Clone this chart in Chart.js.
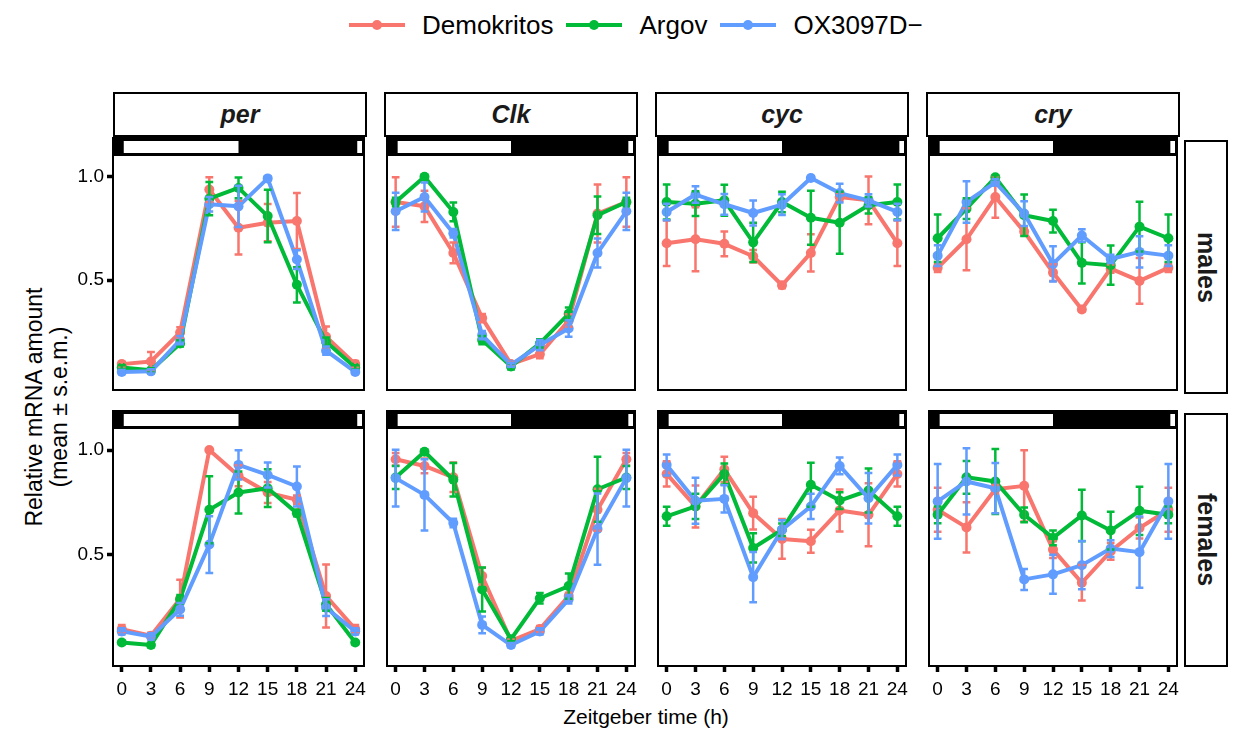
<!DOCTYPE html>
<html lang="en">
<head>
    <meta charset="UTF-8">
    <title>Relative mRNA amount over the day</title>
    <script src="https://cdn.jsdelivr.net/npm/chart.js"></script>
    <style>
        body {
            margin: 0;
            background-color: #fff;
            font-family: "Liberation Sans", Arial, sans-serif;
        }
        #page {
            position: relative;
            width: 1236px;
            height: 732px;
            overflow: hidden;
        }
        .strip-top {
            position: absolute;
            top: 92px;
            width: 254px;
            height: 45px;
            border: 2px solid #000;
            box-sizing: border-box;
            display: flex;
            align-items: center;
            justify-content: center;
            font-weight: bold;
            font-style: italic;
            font-size: 25px;
            color: #1a1a1a;
        }
        .strip-right {
            position: absolute;
            left: 1184px;
            width: 44px;
            border: 2px solid #000;
            box-sizing: border-box;
            display: flex;
            align-items: center;
            justify-content: center;
            font-weight: bold;
            font-size: 25px;
            color: #1a1a1a;
        }
        .strip-right span {
            writing-mode: vertical-rl;
        }
        #legend {
            position: absolute;
            top: 7px;
            left: 349px;
            height: 36px;
            display: flex;
            align-items: center;
            font-size: 26px;
            color: #000;
        }
        .key {
            position: relative;
            width: 56px;
            height: 4px;
            margin-right: 17px;
        }
        .key i {
            position: absolute;
            left: 23px;
            top: -3px;
            width: 10px;
            height: 10px;
            border-radius: 50%;
        }
        .item {
            display: flex;
            align-items: center;
            margin-right: 13px;
        }
        #ytitle {
            position: absolute;
            left: -153px;
            top: 382px;
            width: 400px;
            height: 50px;
            line-height: 25px;
            text-align: center;
            font-size: 23px;
            color: #000;
            transform: rotate(-90deg);
        }
        #xtitle {
            position: absolute;
            left: 446px;
            top: 705px;
            width: 400px;
            text-align: center;
            font-size: 21px;
            color: #000;
        }
    </style>
</head>
<body>
<div id="page">
    <div id="legend"></div>
    <div id="ytitle">Relative mRNA amount<br>(mean ± s.e.m.)</div>
    <div id="xtitle">Zeitgeber time (h)</div>
</div>

<script>
    // zeitgeber time points (h)
    const zt = [0, 3, 6, 9, 12, 15, 18, 21, 24];
    const xTicks = [0, 3, 6, 9, 12, 15, 18, 21, 24];
    const yTicks = [0.5, 1.0];
    const strains = ['Demokritos', 'Argov', 'OX3097D\u2212'];
    const genes = ['per', 'Clk', 'cyc', 'cry'];
    const sexes = ['males', 'females'];
    // light phases (ZT) for the light/dark bar
    const lightPhases = [[0, 12], [24, 36]];

    // rows: Demokritos, Argov, OX3097D-
    const perMalesMean = [
        [0.095, 0.108, 0.248, 0.938, 0.754, 0.778, 0.786, 0.227, 0.095],
        [0.079, 0.065, 0.195, 0.894, 0.946, 0.810, 0.478, 0.203, 0.079],
        [0.057, 0.060, 0.211, 0.867, 0.857, 0.992, 0.600, 0.160, 0.057]
    ];
    const perMalesSem = [
        [0.012, 0.045, 0.025, 0.060, 0.130, 0.090, 0.135, 0.050, 0.015],
        [0.010, 0.010, 0.015, 0.080, 0.050, 0.127, 0.085, 0.020, 0.010],
        [0.010, 0.010, 0.020, 0.035, 0.100, 0.010, 0.045, 0.020, 0.010]
    ];
    const clkMalesMean = [
        [0.878, 0.857, 0.632, 0.317, 0.095, 0.143, 0.306, 0.822, 0.878],
        [0.878, 1.000, 0.830, 0.211, 0.084, 0.195, 0.338, 0.814, 0.878],
        [0.833, 0.902, 0.727, 0.235, 0.092, 0.187, 0.267, 0.632, 0.833]
    ];
    const clkMalesSem = [
        [0.120, 0.075, 0.050, 0.020, 0.010, 0.020, 0.030, 0.140, 0.120],
        [0.020, 0.010, 0.045, 0.020, 0.015, 0.020, 0.030, 0.090, 0.020],
        [0.090, 0.070, 0.020, 0.020, 0.010, 0.025, 0.040, 0.070, 0.090]
    ];
    const cycMalesMean = [
        [0.679, 0.698, 0.676, 0.616, 0.476, 0.632, 0.902, 0.886, 0.679],
        [0.878, 0.870, 0.886, 0.683, 0.878, 0.802, 0.778, 0.862, 0.878],
        [0.830, 0.914, 0.867, 0.825, 0.865, 0.994, 0.921, 0.886, 0.830]
    ];
    const cycMalesSem = [
        [0.110, 0.155, 0.060, 0.030, 0.015, 0.090, 0.020, 0.115, 0.110],
        [0.085, 0.060, 0.075, 0.095, 0.050, 0.130, 0.150, 0.040, 0.085],
        [0.040, 0.040, 0.050, 0.060, 0.050, 0.010, 0.045, 0.030, 0.040]
    ];
    const cryMalesMean = [
        [0.560, 0.698, 0.902, 0.735, 0.537, 0.359, 0.556, 0.497, 0.560],
        [0.703, 0.846, 0.997, 0.814, 0.786, 0.584, 0.573, 0.759, 0.703],
        [0.619, 0.878, 0.973, 0.822, 0.579, 0.716, 0.603, 0.637, 0.619]
    ];
    const cryMalesSem = [
        [0.020, 0.150, 0.100, 0.020, 0.040, 0.010, 0.020, 0.110, 0.020],
        [0.115, 0.050, 0.010, 0.100, 0.055, 0.100, 0.095, 0.120, 0.115],
        [0.050, 0.100, 0.015, 0.060, 0.085, 0.030, 0.020, 0.075, 0.050]
    ];
    const perFemalesMean = [
        [0.146, 0.114, 0.291, 1.000, 0.877, 0.797, 0.763, 0.304, 0.146],
        [0.082, 0.070, 0.288, 0.715, 0.797, 0.818, 0.699, 0.264, 0.082],
        [0.135, 0.111, 0.240, 0.549, 0.929, 0.881, 0.826, 0.248, 0.135]
    ];
    const perFemalesSem = [
        [0.020, 0.015, 0.090, 0.005, 0.050, 0.050, 0.020, 0.150, 0.020],
        [0.010, 0.010, 0.020, 0.160, 0.100, 0.090, 0.015, 0.030, 0.010],
        [0.015, 0.015, 0.030, 0.135, 0.070, 0.060, 0.095, 0.040, 0.015]
    ];
    const clkFemalesMean = [
        [0.956, 0.924, 0.870, 0.399, 0.090, 0.146, 0.304, 0.715, 0.956],
        [0.869, 0.992, 0.858, 0.335, 0.098, 0.293, 0.351, 0.813, 0.869],
        [0.866, 0.786, 0.652, 0.166, 0.070, 0.135, 0.288, 0.623, 0.866]
    ];
    const clkFemalesSem = [
        [0.030, 0.035, 0.070, 0.040, 0.010, 0.015, 0.015, 0.100, 0.030],
        [0.055, 0.010, 0.080, 0.105, 0.010, 0.025, 0.060, 0.155, 0.055],
        [0.135, 0.170, 0.020, 0.040, 0.010, 0.015, 0.020, 0.170, 0.135]
    ];
    const cycFemalesMean = [
        [0.886, 0.731, 0.908, 0.699, 0.576, 0.565, 0.712, 0.691, 0.886],
        [0.684, 0.731, 0.886, 0.533, 0.620, 0.834, 0.759, 0.807, 0.684],
        [0.929, 0.758, 0.767, 0.394, 0.620, 0.731, 0.924, 0.770, 0.929]
    ];
    const cycFemalesSem = [
        [0.060, 0.100, 0.060, 0.078, 0.095, 0.055, 0.100, 0.150, 0.060],
        [0.045, 0.060, 0.050, 0.070, 0.030, 0.105, 0.040, 0.105, 0.045],
        [0.050, 0.110, 0.065, 0.120, 0.045, 0.060, 0.040, 0.120, 0.050]
    ];
    const cryFemalesMean = [
        [0.715, 0.631, 0.813, 0.829, 0.525, 0.367, 0.517, 0.628, 0.715],
        [0.691, 0.870, 0.850, 0.691, 0.581, 0.688, 0.616, 0.710, 0.691],
        [0.755, 0.850, 0.818, 0.383, 0.407, 0.451, 0.530, 0.513, 0.755]
    ];
    const cryFemalesSem = [
        [0.105, 0.120, 0.020, 0.170, 0.040, 0.085, 0.040, 0.050, 0.105],
        [0.040, 0.078, 0.155, 0.035, 0.035, 0.123, 0.090, 0.115, 0.040],
        [0.178, 0.158, 0.120, 0.050, 0.093, 0.115, 0.040, 0.170, 0.178]
    ];

    const panels = [
        [[perMalesMean, perMalesSem], [clkMalesMean, clkMalesSem], [cycMalesMean, cycMalesSem], [cryMalesMean, cryMalesSem]],
        [[perFemalesMean, perFemalesSem], [clkFemalesMean, clkFemalesSem], [cycFemalesMean, cycFemalesSem], [cryFemalesMean, cryFemalesSem]]
    ];

    const colors = ['#F8766D', '#00BA38', '#619CFF'];
    const font = '"Liberation Sans", Arial, sans-serif';

    // layout of the facet grid (px)
    const colLeft = [113, 384, 655, 926];
    const plotTop = [155, 428];
    const plotW = 254, plotH = 238, barH = 18;
    const yAxisW = 60, xAxisH = 44, pad = 2;
    const xMin = -0.9, xMax = 24.9, yMin = -0.03, yMax = 1.105;
    const capHalf = 0.4;

    const page = document.getElementById('page');

    // legend
    const legend = document.getElementById('legend');
    strains.forEach((name, i) => {
        const item = document.createElement('div');
        item.className = 'item';
        item.innerHTML = `<span class="key" style="background:${colors[i]}"><i style="background:${colors[i]}"></i></span><span>${name}</span>`;
        legend.appendChild(item);
    });

    // strips
    genes.forEach((g, c) => {
        const d = document.createElement('div');
        d.className = 'strip-top';
        d.style.left = colLeft[c] + 'px';
        d.textContent = g;
        page.appendChild(d);
    });
    sexes.forEach((s, r) => {
        const d = document.createElement('div');
        d.className = 'strip-right';
        d.style.top = (plotTop[r] - barH + 3) + 'px';
        d.style.height = (plotH + barH - 2) + 'px';
        d.innerHTML = `<span>${s}</span>`;
        page.appendChild(d);
    });

    // light/dark bar, error bars and panel border
    const panelDecor = {
        id: 'panelDecor',
        beforeDatasetsDraw(chart) {
            const { ctx, chartArea } = chart;
            const x = chart.scales.x;
            const top = chartArea.top - barH;
            ctx.save();
            ctx.fillStyle = '#000';
            ctx.fillRect(chartArea.left - 1, top, chartArea.right - chartArea.left + 2, barH);
            ctx.fillStyle = '#fff';
            lightPhases.forEach(([a, b]) => {
                const x0 = Math.max(x.getPixelForValue(a) + 2, chartArea.left + 2);
                const x1 = Math.min(x.getPixelForValue(b), chartArea.right - 2);
                if (x1 > x0) ctx.fillRect(x0, top + 4, x1 - x0, barH - 6);
            });
            ctx.restore();
        },
        afterDatasetsDraw(chart) {
            const { ctx } = chart;
            const xs = chart.scales.x, ys = chart.scales.y;
            ctx.save();
            ctx.lineWidth = 2.5;
            chart.data.datasets.forEach(ds => {
                ctx.strokeStyle = ds.borderColor;
                ds.data.forEach((p, j) => {
                    const e = ds.sem[j];
                    const px = xs.getPixelForValue(p.x);
                    const y1 = ys.getPixelForValue(p.y + e);
                    const y2 = ys.getPixelForValue(p.y - e);
                    const h = xs.getPixelForValue(p.x + capHalf) - px;
                    ctx.beginPath();
                    ctx.moveTo(px, y1); ctx.lineTo(px, y2);
                    ctx.moveTo(px - h, y1); ctx.lineTo(px + h, y1);
                    ctx.moveTo(px - h, y2); ctx.lineTo(px + h, y2);
                    ctx.stroke();
                });
            });
            ctx.restore();
        },
        afterDraw(chart) {
            const { ctx, chartArea } = chart;
            ctx.save();
            ctx.strokeStyle = '#000';
            ctx.lineWidth = 2;
            ctx.strokeRect(chartArea.left, chartArea.top, chartArea.right - chartArea.left, chartArea.bottom - chartArea.top);
            ctx.restore();
        }
    };

    function noEdgePadding(s) {
        s.paddingLeft = 0;
        s.paddingRight = 0;
        s.paddingTop = 0;
        s.paddingBottom = 0;
    }

    function makePanel(row, col) {
        const [means, sems] = panels[row][col];
        const isLeft = col === 0, isBottom = row === 1;
        const cw = (isLeft ? yAxisW : pad) + plotW + pad;
        const ch = barH + pad + plotH + (isBottom ? xAxisH : pad);
        const canvas = document.createElement('canvas');
        canvas.width = cw;
        canvas.height = ch;
        canvas.style.cssText = `position:absolute;left:${colLeft[col] - (isLeft ? yAxisW : pad)}px;top:${plotTop[row] - barH - pad}px;width:${cw}px;height:${ch}px`;
        page.appendChild(canvas);

        const datasets = strains.map((name, i) => ({
            label: name,
            data: zt.map((x, j) => ({ x: x, y: means[i][j] })),
            sem: sems[i],
            borderColor: colors[i],
            backgroundColor: colors[i],
            borderWidth: 4,
            borderJoinStyle: 'round',
            pointRadius: 5,
            pointBorderWidth: 0,
            pointHoverRadius: 0,
            order: 3 - i
        }));

        const axisGrid = { display: true, drawOnChartArea: false, drawTicks: true, tickLength: 6, tickWidth: 3.5, tickColor: '#000' };

        new Chart(canvas, {
            type: 'line',
            data: { datasets: datasets },
            options: {
                responsive: false,
                animation: false,
                events: [],
                layout: { padding: { top: barH + pad, right: pad, bottom: isBottom ? 0 : pad, left: isLeft ? 0 : pad } },
                plugins: { legend: { display: false }, tooltip: { enabled: false } },
                scales: {
                    x: {
                        type: 'linear', min: xMin, max: xMax, display: isBottom,
                        afterBuildTicks: s => { s.ticks = xTicks.map(v => ({ value: v })); },
                        afterFit: s => { noEdgePadding(s); if (isBottom) s.height = xAxisH; },
                        grid: axisGrid,
                        border: { display: false },
                        ticks: { color: '#000', font: { size: 19, family: font }, padding: 6, maxRotation: 0, autoSkip: false, callback: v => String(v) }
                    },
                    y: {
                        type: 'linear', min: yMin, max: yMax, display: isLeft,
                        afterBuildTicks: s => { s.ticks = yTicks.map(v => ({ value: v })); },
                        afterFit: s => { noEdgePadding(s); if (isLeft) s.width = yAxisW; },
                        grid: axisGrid,
                        border: { display: false },
                        ticks: { color: '#000', font: { size: 19, family: font }, padding: 3, callback: v => v.toFixed(1) }
                    }
                }
            },
            plugins: [panelDecor]
        });
    }

    for (let r = 0; r < 2; r++) {
        for (let c = 0; c < 4; c++) makePanel(r, c);
    }
</script>
</body>
</html>
